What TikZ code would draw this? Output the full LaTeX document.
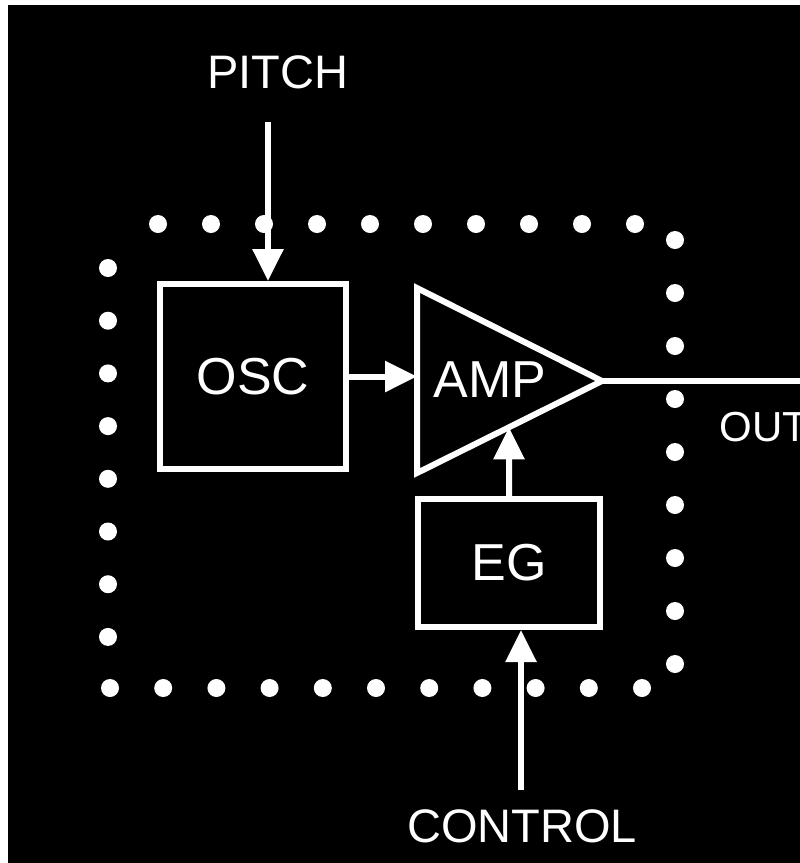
\documentclass[tikz,border=0pt]{standalone}
\usepackage{fontspec}
\setmainfont{Liberation Sans}
\usetikzlibrary{arrows.meta}

\begin{document}
\begin{tikzpicture}
        [
            x = 1pt, y = -1pt,
            boxed/.style  = {shape=rectangle, draw=white, line width=6pt, inner sep=0pt, align=center},
            big/.style    = {text=white, font=\fontsize{52}{56}\selectfont},
            small/.style  = {text=white, font=\fontsize{47}{50}\selectfont},
            wire/.style   = {draw=white, line width=6pt, -{Triangle[length=32pt, width=30pt]}},
            dot/.style    = {fill=white},
        ]
        \useasboundingbox (0,0) rectangle (800,863);
        \fill[white] (0,0) rectangle (800,863);
        \fill[black] (8,5) rectangle (800,863);

        % dotted frame round OSC, AMP and EG
        \foreach \i in {0,...,9}  \fill[dot] (158+53*\i,224) circle (9pt);
        \foreach \i in {0,...,8}  \fill[dot] (675,240+53*\i) circle (9pt);
        \foreach \i in {0,...,10} \fill[dot] (110+53.2*\i,688) circle (9pt);
        \foreach \i in {0,...,7}  \fill[dot] (108,268+52.7*\i) circle (9pt);

        \node [boxed, big, minimum width=186pt, minimum height=185pt] (osc) at (253,376.5) {OSC};
        \node [boxed, big, minimum width=182pt, minimum height=128pt] (eg)  at (509,563) {EG};

        % amplifier
        \coordinate (amp-top) at (417,288);
        \coordinate (amp-bot) at (417,473);
        \coordinate (amp-tip) at (602,381);
        \draw [white, line width=6pt] (amp-top) -- (amp-tip) -- (amp-bot) -- cycle;
        \node [big] (amp) at (490,380) {AMP};

        \node [small] (pitch)   at (278,72)  {PITCH};
        \node [small] (control) at (522,826) {CONTROL};
        \node [small, anchor=west, font=\fontsize{42}{46}\selectfont] (out) at (716,427) {OUT};

        \coordinate (pitch-in) at (268,122);
        \coordinate (ctrl-in)  at (521,790);
        \coordinate (out-end)  at (800,381);

        \draw [wire] (pitch-in) -- (pitch-in |- osc.north);
        \draw [wire] (osc.east) -- (osc.east -| amp-top);
        \draw [wire] (eg.north) -- (intersection of eg.north--eg.south and amp-bot--amp-tip);
        \draw [wire] (ctrl-in) -- (ctrl-in |- eg.south);
        \draw [white, line width=6pt] (amp-tip) -- (out-end);
    \end{tikzpicture}
\end{document}
